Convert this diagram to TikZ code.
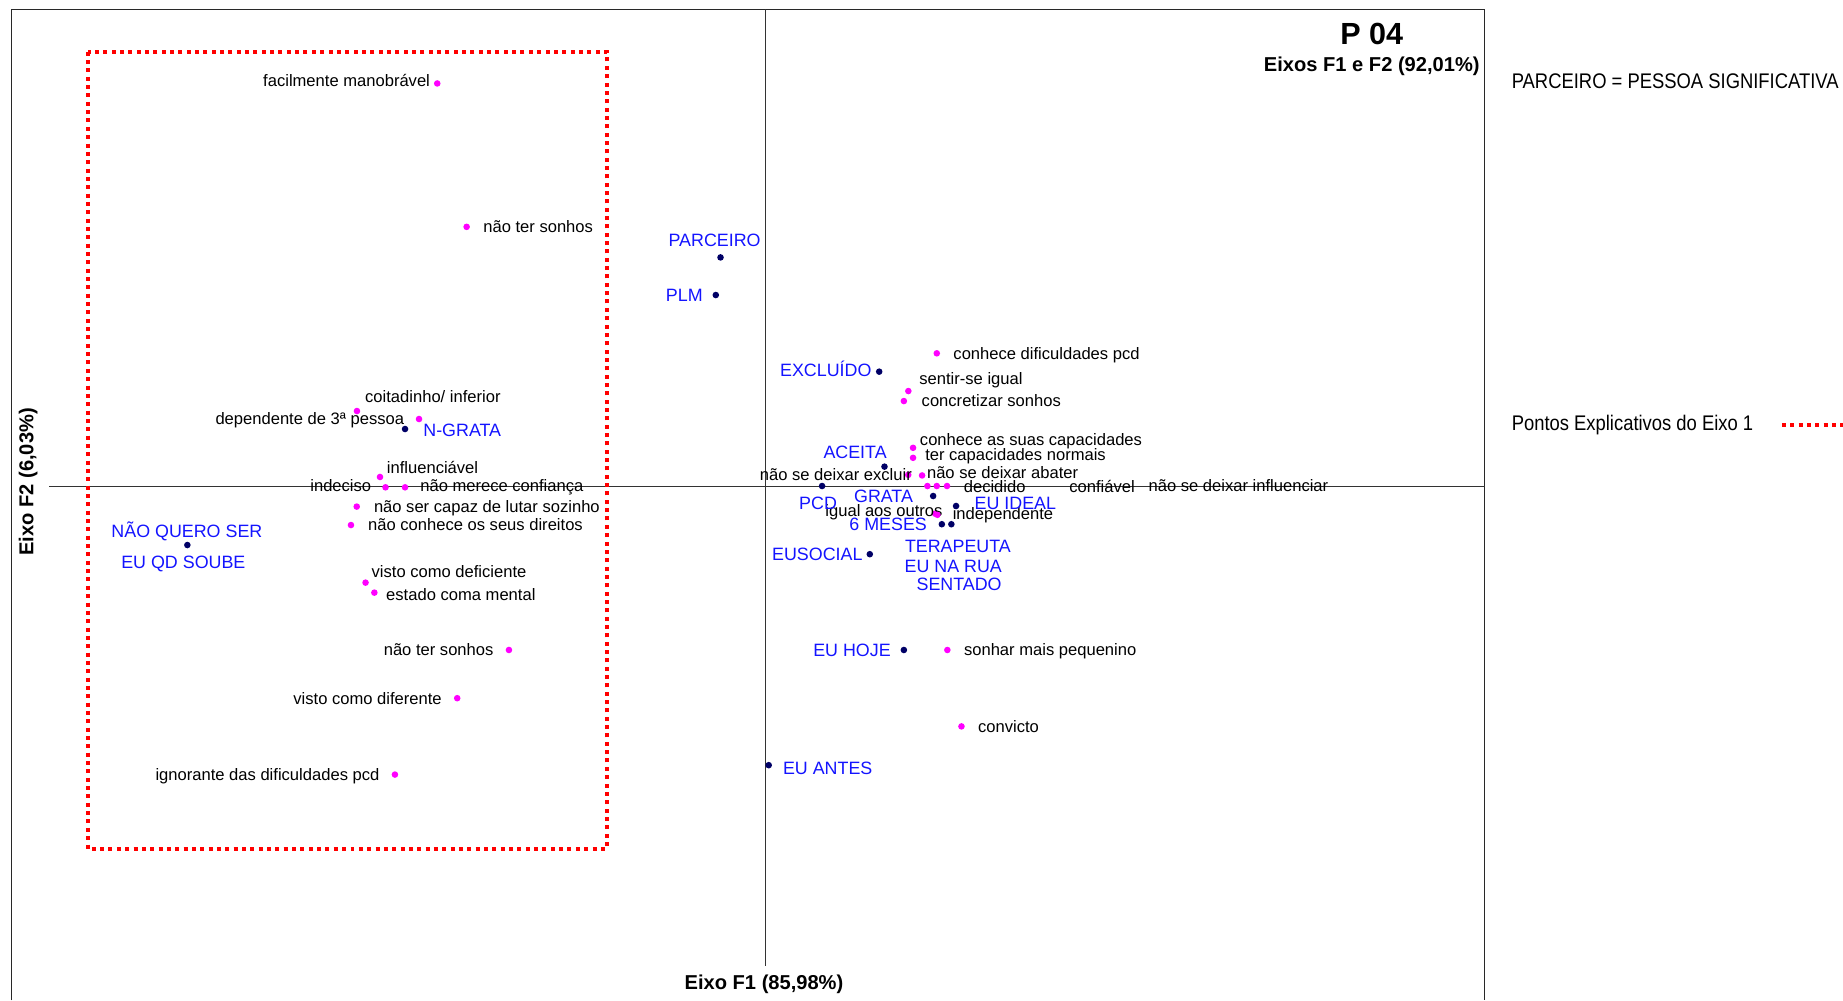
\documentclass[tikz,border=0pt]{standalone}
\usepackage{fontspec}
\setmainfont{Liberation Sans}
\newfontfamily\narrowfont[FakeStretch=0.87]{Liberation Sans}
\definecolor{magdot}{RGB}{255,0,255}
\definecolor{navydot}{RGB}{0,0,102}
\definecolor{bluelab}{RGB}{20,20,255}
\definecolor{framegray}{RGB}{40,40,40}
\tikzset{
  mdot/.style={circle,fill=magdot,inner sep=0pt,minimum size=5.6pt},
  ndot/.style={circle,fill=navydot,inner sep=0pt,minimum size=5.6pt},
  klab/.style={inner sep=0pt,text height=12pt,text depth=2pt,font=\fontsize{14.1}{16}\selectfont,text=black},
  blab/.style={inner sep=0pt,text height=12.6pt,text depth=2pt,font=\fontsize{15.2}{18}\selectfont,text=bluelab},
  axlab/.style={inner sep=0pt,font=\fontsize{17.1}{19}\selectfont\bfseries},
  legtxt/.style={inner sep=0pt,anchor=west,font=\fontsize{18}{21}\selectfont\narrowfont},
  redbox/.style={draw=red,line width=3.4pt,dash pattern=on 3.4pt off 3.7pt},
  axisline/.style={draw=black!80,line width=0.8pt},
  frameline/.style={draw=framegray,line width=1pt}
}
\begin{document}
\begin{tikzpicture}[x=1pt,y=-1pt]
\useasboundingbox (0,0) rectangle (1568,851);
\fill[white] (0,0) rectangle (1568,851);
% frame
\draw[frameline] (10,851) -- (10,8) -- (1263,8) -- (1263,851);
% axes
\draw[axisline] (651,8) -- (651,822);
\draw[axisline] (42,414) -- (1263,414);
% red box
\draw[redbox] (74.5,44) rectangle (516,722);
% titles
\node[axlab,font=\fontsize{26}{30}\selectfont\bfseries] (title) at (1167,29) {P 04};
\node[axlab,anchor=east] (sub) at (1259,56) {Eixos F1 e F2 (92,01\%)};
\node[axlab] (xlab) at (650,837) {Eixo F1 (85,98\%)};
\node[axlab,rotate=90] (ylab) at (24,410) {Eixo F2 (6,03\%)};
% legend
\node[legtxt] (leg1) at (1286,69) {PARCEIRO = PESSOA SIGNIFICATIVA};
\node[legtxt] (leg2) at (1286,362) {Pontos Explicativos do Eixo 1};
\coordinate (legA) at (1516,362);
\coordinate (legB) at (1570,362);
\draw[redbox] (legA) -- (legB);
% magenta points
\node[mdot] (m1) at (372,71) {};
\node[klab,anchor=east] (m1l) at (366,69) {facilmente manobrável};
\node[mdot] (m2) at (397,193) {};
\node[klab,anchor=west] (m2l) at (411,193) {não ter sonhos};
\node[mdot] (m3) at (303.7,349.7) {};
\node[klab,anchor=west] (m3l) at (310.5,337.7) {coitadinho/ inferior};
\node[mdot] (m4) at (356.5,356.5) {};
\node[klab,anchor=east] (m4l) at (344,356.5) {dependente de 3ª pessoa};
\node[mdot] (m5) at (323.3,405.8) {};
\node[klab,anchor=west] (m5l) at (329,398) {influenciável};
\node[mdot] (m6) at (328,414.6) {};
\node[klab,anchor=east] (m6l) at (316,413) {indeciso};
\node[mdot] (m7) at (344.6,414.6) {};
\node[klab,anchor=west] (m7l) at (357.4,413) {não merece confiança};
\node[mdot] (m8) at (303.5,431) {};
\node[klab,anchor=west] (m8l) at (318,431) {não ser capaz de lutar sozinho};
\node[mdot] (m9) at (298.6,446.7) {};
\node[klab,anchor=west] (m9l) at (313,446) {não conhece os seus direitos};
\node[mdot] (m10) at (311,495.7) {};
\node[klab,anchor=west] (m10l) at (316,486.7) {visto como deficiente};
\node[mdot] (m11) at (318.5,504.2) {};
\node[klab,anchor=west] (m11l) at (328.4,506) {estado coma mental};
\node[mdot] (m12) at (433,553) {};
\node[klab,anchor=east] (m12l) at (420,553) {não ter sonhos};
\node[mdot] (m13) at (389,594) {};
\node[klab,anchor=east] (m13l) at (376,594) {visto como diferente};
\node[mdot] (m14) at (336,659) {};
\node[klab,anchor=east] (m14l) at (323,659) {ignorante das dificuldades pcd};
\node[mdot] (m15) at (797,300.6) {};
\node[klab,anchor=west] (m15l) at (811,300.6) {conhece dificuldades pcd};
\node[mdot] (m16) at (772.8,332.7) {};
\node[klab,anchor=west] (m16l) at (782,321.7) {sentir-se igual};
\node[mdot] (m17) at (769,341.2) {};
\node[klab,anchor=west] (m17l) at (784,341.2) {concretizar sonhos};
\node[mdot] (m18) at (776.8,381) {};
\node[klab,anchor=west] (m18l) at (782.5,374) {conhece as suas capacidades};
\node[mdot] (m19) at (776.8,389.5) {};
\node[klab,anchor=west] (m19l) at (787,387) {ter capacidades normais};
\node[mdot] (m20) at (772.7,404) {};
\node[klab,anchor=east] (m20l) at (776,404) {não se deixar excluir};
\node[mdot] (m21) at (784.5,404.5) {};
\node[klab,anchor=west] (m21l) at (788.5,402.5) {não se deixar abater};
\node[mdot] (m22) at (789,413.5) {};
\node[klab,anchor=west] (m22l) at (819.8,414) {decidido};
\node[mdot] (m23) at (797,413.5) {};
\node[klab,anchor=west] (m23l) at (909.6,414) {confiável};
\node[mdot] (m24) at (805.7,413.5) {};
\node[klab,anchor=west] (m24l) at (977,413.5) {não se deixar influenciar};
\node[mdot] (m25) at (795.6,437) {};
\node[klab,anchor=east] (m25l) at (802,434.5) {igual aos outros};
\node[mdot] (m26) at (797.5,438) {};
\node[klab,anchor=west] (m26l) at (810.4,437) {independente};
\node[mdot] (m27) at (806,553) {};
\node[klab,anchor=west] (m27l) at (820,553) {sonhar mais pequenino};
\node[mdot] (m28) at (818,618) {};
\node[klab,anchor=west] (m28l) at (832,618) {convicto};
% navy points
\node[ndot] (n1) at (613,219) {};
\node[blab] (n1l) at (608,204) {PARCEIRO};
\node[ndot] (n2) at (609,251) {};
\node[blab,anchor=east] (n2l) at (598,251) {PLM};
\node[ndot] (n3) at (748,316.2) {};
\node[blab,anchor=east] (n3l) at (741.6,314.8) {EXCLUÍDO};
\node[ndot] (n4) at (344.6,365) {};
\node[blab,anchor=west] (n4l) at (360,366) {N-GRATA};
\node[ndot] (n5) at (159.4,463.7) {};
\node[blab] (n5l) at (159,452) {NÃO QUERO SER};
\node[blab] (n5m) at (156,478) {EU QD SOUBE};
\node[ndot] (n6) at (752.5,397) {};
\node[blab] (n6l) at (727.5,385) {ACEITA};
\node[ndot] (n7) at (699.4,413.5) {};
\node[blab] (n7l) at (696,428) {PCD};
\node[ndot] (n8) at (793.9,422) {};
\node[blab] (n8l) at (751.7,422.5) {GRATA};
\node[ndot] (n9) at (813.4,430.5) {};
\node[blab,anchor=west] (n9l) at (829,428) {EU IDEAL};
\node[ndot] (n10) at (801.3,446) {};
\node[blab] (n10l) at (755.6,446) {6 MESES};
\node[ndot] (n11) at (809.4,446) {};
\node[blab] (n11l) at (815,465) {TERAPEUTA};
\node[blab] (n12l) at (811,482) {EU NA RUA};
\node[blab] (n13l) at (816,497) {SENTADO};
\node[ndot] (n14) at (740,471.5) {};
\node[blab,anchor=east] (n14l) at (734,471.5) {EUSOCIAL};
\node[ndot] (n15) at (769,553) {};
\node[blab,anchor=east] (n15l) at (758,553) {EU HOJE};
\node[ndot] (n16) at (654,651) {};
\node[blab,anchor=west] (n16l) at (666,654) {EU ANTES};
\end{tikzpicture}
\end{document}
